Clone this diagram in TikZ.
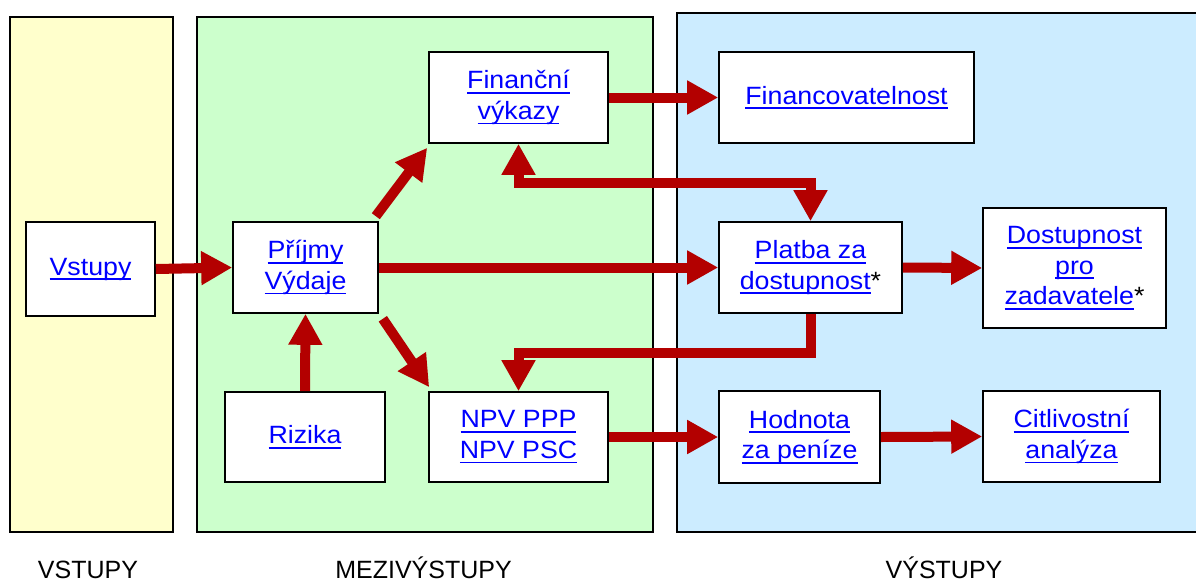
\documentclass[tikz,border=0pt]{standalone}
\usepackage{fontspec}
\setmainfont{Liberation Sans}
\newfontfamily\boxfont[FakeStretch=1.07]{Liberation Sans}
\usetikzlibrary{arrows.meta,calc}
\definecolor{panelY}{HTML}{FFFFCC}
\definecolor{panelG}{HTML}{CCFFCC}
\definecolor{panelB}{HTML}{CCECFF}
\definecolor{flowred}{HTML}{B30000}
\definecolor{linkblue}{HTML}{0000FF}
% underlined hyperlink-style text
\newcommand\lnk[1]{\setbox0\hbox{#1}\rlap{\rule[-5pt]{\wd0}{1.8pt}}\box0}
\newcommand\starmark{{\color{black}*}}
\begin{document}
\begin{tikzpicture}[x=1pt,y=-1pt,
  panel/.style={draw=black,line width=1.6pt},
  box/.style={draw=black,line width=1.6pt,fill=white,align=center,
    text=linkblue,font=\boxfont\fontsize{25}{30.5}\selectfont,inner sep=0pt},
  flow/.style={draw=flowred,line width=10pt,line join=miter,
    -{Triangle[width=32pt,length=31pt]}},
  both/.style={draw=flowred,line width=10pt,line join=miter,
    {Triangle[width=32pt,length=31pt]}-{Triangle[width=32pt,length=31pt]}},
  caption/.style={anchor=base,text depth=0pt,font=\fontsize{25}{30}\selectfont}]
\useasboundingbox (0,0) rectangle (1196,584);
\clip (0,0) rectangle (1196,584);

% column panels
\draw[panel,fill=panelY] (10,17) rectangle (173,532);
\draw[panel,fill=panelG] (197,17) rectangle (653,532);
\draw[panel,fill=panelB] (677,13) rectangle (1205,532);

% boxes
\node[box,minimum width=129pt,minimum height=94pt] (vs) at (90.5,269) {\lnk{Vstupy}};
\node[box,minimum width=145pt,minimum height=91pt] (pv) at (305.5,267.5) {\lnk{Příjmy}\\\lnk{Výdaje}};
\node[box,minimum width=179pt,minimum height=91pt] (fin) at (518.5,97.5) {\lnk{Finanční}\\\lnk{výkazy}};
\node[box,minimum width=255pt,minimum height=91pt] (fcv) at (846.5,97.5) {\lnk{Financovatelnost}};
\node[box,minimum width=183pt,minimum height=91pt] (pl) at (810.5,267.5) {\lnk{Platba za}\\\lnk{dostupnost}\starmark};
\node[box,minimum width=183pt,minimum height=120pt] (dos) at (1074.5,268) {\lnk{Dostupnost}\\\lnk{pro}\\\lnk{zadavatele}\starmark};
\node[box,minimum width=160pt,minimum height=90pt] (riz) at (305,437) {\lnk{Rizika}};
\node[box,minimum width=179pt,minimum height=90pt] (npv) at (518.5,437) {\lnk{NPV PPP}\\\lnk{NPV PSC}};
\node[box,minimum width=161pt,minimum height=92pt] (hod) at (799.5,437) {\lnk{Hodnota}\\\lnk{za peníze}};
\node[box,minimum width=177pt,minimum height=91pt] (cit) at (1071.5,436.5) {\lnk{Citlivostní}\\\lnk{analýza}};

% flows
\draw[flow] (vs.east) -- (pv.west);
\draw[flow] (pv.east) -- (pl.west);
\draw[flow] (pl.east) -- (dos.west);
\draw[flow] (riz.north) -- (pv.south);
\draw[flow] (fin.east) -- (fcv.west);
\draw[flow] (npv.east) -- (hod.west);
\draw[flow] (hod.east) -- (cit.west);
\draw[flow] ($(pv.north east)+(-3,-5)$) -- ($(fin.south west)+(-1,4)$);
\draw[flow] ($(pv.south east)+(4,5)$) -- ($(npv.north west)+(1,-4)$);
\draw[both] (fin.south) -- ++(0,39) -| (pl.north);
\draw[flow] (pl.south) -- ++(0,39) -| (npv.north);

% column captions
\node[caption] (c1) at (88,578) {VSTUPY};
\node[caption] (c2) at (423.5,578) {MEZIVÝSTUPY};
\node[caption] (c3) at (944,578) {VÝSTUPY};
\end{tikzpicture}
\end{document}
